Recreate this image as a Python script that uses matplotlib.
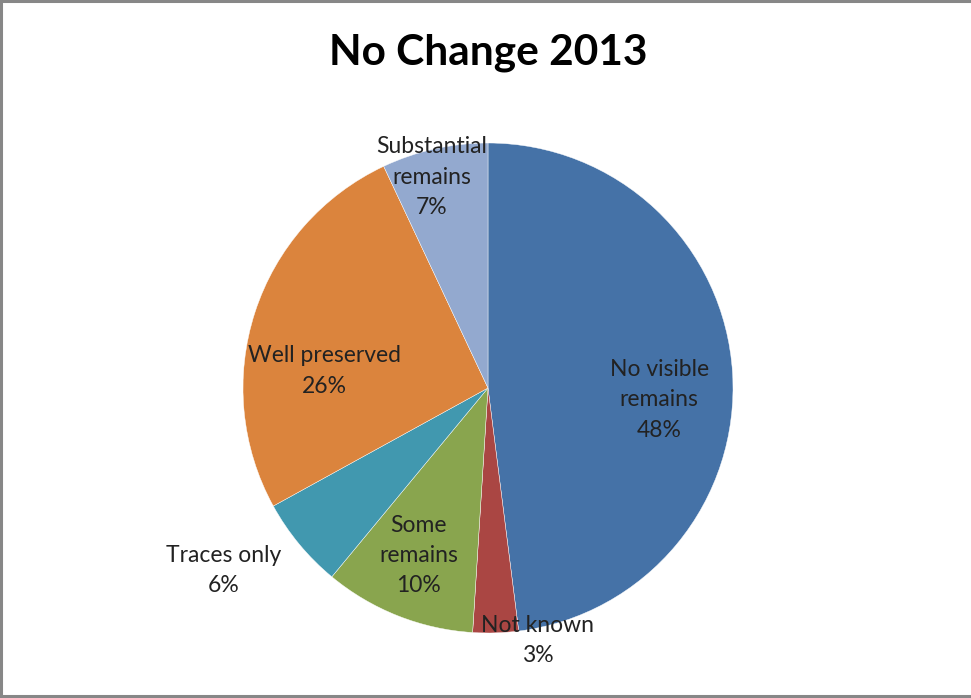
import numpy as np
import matplotlib.pyplot as plt
from matplotlib.lines import Line2D

labels = ["No visible\nremains", "Not known", "Some\nremains", "Traces only",
          "Well preserved", "Substantial\nremains"]
values = [48, 3, 10, 6, 26, 7]
colors = ["#4572A7", "#AA4643", "#89A54E", "#4198AF", "#DB843D", "#93A9CF"]

# label placement (radius, angle shift in degrees)
label_r = [0.70, 1.05, 0.74, 1.31, 0.67, 0.89]
label_shift = [-7.6, 9.4, -1, -5, 12, 2.3]

plt.rcParams['font.family'] = ['Lato', 'DejaVu Sans']

fig = plt.figure(figsize=(9.71, 6.98), dpi=100)
W, H = 971, 698
cx, cy, R = 488, 388, 245
ax = fig.add_axes([(cx - R) / W, (H - cy - R) / H, 2 * R / W, 2 * R / H])

wedges, _ = ax.pie(values, colors=colors, startangle=90, counterclock=False,
                   radius=1, wedgeprops=dict(linewidth=0.3, edgecolor="white"))
ax.set_xlim(-1, 1)
ax.set_ylim(-1, 1)
ax.set_aspect("equal")
ax.axis("off")

for w, lab, v, r, s in zip(wedges, labels, values, label_r, label_shift):
    ang = np.deg2rad((w.theta1 + w.theta2) / 2 + s)
    ax.text(r * np.cos(ang), r * np.sin(ang), f"{lab}\n{v}%", ha="center",
            va="center", fontsize=16.5, color="#222222", linespacing=1.55,
            clip_on=False)

fig.text(0.503, 1 - 53 / H, "No Change 2013", ha="center", va="center",
         fontsize=30.5, fontweight="bold")

# chart border
for xs, ys in [([1 / W, 1 / W], [0, 1]), ([0, 1], [1 - 1 / H, 1 - 1 / H]),
               ([0, 1], [2 / H, 2 / H])]:
    fig.add_artist(Line2D(xs, ys, color="#878787", linewidth=2.2,
                          transform=fig.transFigure))

fig.savefig("out.png", dpi=100)
